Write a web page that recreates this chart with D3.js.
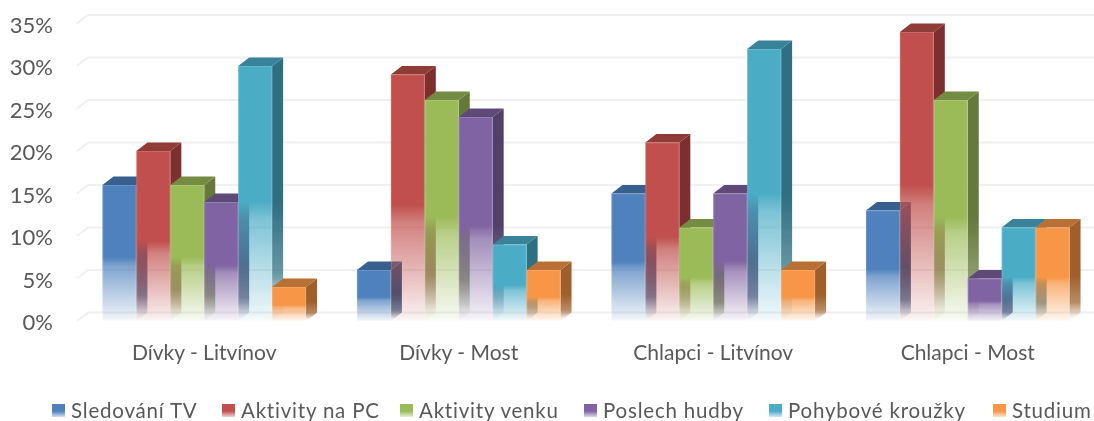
<!DOCTYPE html>
<html>
<head>
<meta charset="utf-8">
<script src="https://cdn.jsdelivr.net/npm/d3@7"></script>
<style>
  html, body { margin: 0; background: #fff; }
  svg { display: block; }
  text { font-family: Lato, "Open Sans", sans-serif; fill: #595959; }
</style>
</head>
<body>
<div id="chart"></div>
<script>
const groups = ["Dívky - Litvínov", "Dívky - Most", "Chlapci - Litvínov", "Chlapci - Most"];
const series = ["Sledování TV", "Aktivity na PC", "Aktivity venku", "Poslech hudby", "Pohybové kroužky", "Studium"];
const sledovaniTv = [16, 6, 15, 13];
const aktivityPc = [20, 29, 21, 34];
const aktivityVenku = [16, 26, 11, 26];
const poslechHudby = [14, 24, 15, 5];
const pohyboveKrouzky = [30, 9, 32, 11];
const studium = [4, 6, 6, 11];
const values = [sledovaniTv, aktivityPc, aktivityVenku, poslechHudby, pohyboveKrouzky, studium];
const yTicks = [0, 5, 10, 15, 20, 25, 30, 35];

const frontColors = ["#4f81bd", "#c0504d", "#9bbb59", "#8064a2", "#4bacc6", "#f79646"];
const sideColors = ["#2f4f78", "#7d2f2d", "#65793a", "#524069", "#2e6f81", "#9e5f2b"];
const topColors = ["#38608f", "#8f3b39", "#738c42", "#5f4a79", "#37829a", "#b97034"];
const legendX = [52, 222, 400, 584, 769, 993];

const width = 1094, height = 421;
const depth = { x: 11, y: 8.5 };

const svg = d3.select("#chart").append("svg")
  .attr("width", width)
  .attr("height", height)
  .attr("viewBox", `0 0 ${width} ${height}`);

const defs = svg.append("defs");
defs.append("filter").attr("id", "soft")
  .append("feGaussianBlur").attr("stdDeviation", 0.4);

// bottom part of each bar fades out, same proportion on all of them
function fadeGradient(id, color, stops) {
  const grad = defs.append("linearGradient")
    .attr("id", id)
    .attr("x1", 0).attr("y1", 0).attr("x2", 0).attr("y2", 1);
  stops.forEach(s => {
    grad.append("stop")
      .attr("offset", s[0])
      .attr("stop-color", color)
      .attr("stop-opacity", s[1]);
  });
}
series.forEach((s, i) => {
  fadeGradient(`front${i}`, frontColors[i], [[0, 1], [0.53, 1], [0.6, 0.72], [0.98, 0.1], [1, 0.03]]);
  fadeGradient(`side${i}`, sideColors[i], [[0, 1], [0.55, 1], [0.82, 0.72], [0.96, 0.08], [1, 0]]);
  fadeGradient(`legend${i}`, frontColors[i], [[0, 1], [0.55, 1], [1, 0.25]]);
});

const x0 = d3.scaleBand().domain(groups).range([77, 1095]).paddingInner(0.2).paddingOuter(0.1);
const x1 = d3.scaleBand().domain(series).range([0, x0.bandwidth()]);
const y = d3.scaleLinear().domain([0, 35]).range([321, 23.5]);

const root = svg.append("g").attr("filter", "url(#soft)");

// back wall gridlines
const grid = root.append("g");
yTicks.forEach(t => {
  grid.append("path")
    .attr("d", d3.line()([[x0.range()[0], y(t)], [x0.range()[0] + depth.x, y(t) - depth.y], [width, y(t) - depth.y]]))
    .attr("fill", "none")
    .attr("stroke", "#f0f0f0")
    .attr("stroke-width", 2);
});

root.append("g")
  .attr("transform", "translate(55,1.5)")
  .call(d3.axisLeft(y).tickValues(yTicks).tickSize(0).tickPadding(2).tickFormat(d => d + "%"))
  .call(g => g.select(".domain").remove())
  .call(g => g.selectAll("text").attr("font-size", 22).style("font-family", "Lato, sans-serif").attr("fill", "#595959"));

const barsLayer = root.append("g");
groups.forEach((group, gi) => {
  series.forEach((s, si) => {
    const v = values[si][gi];
    const left = x0(group) + x1(s);
    const right = left + x1.bandwidth();
    const top = y(v), bottom = y(0);
    const g = barsLayer.append("g");

    g.append("path")
      .attr("d", d3.line()([[right, top], [right + depth.x, top - depth.y], [right + depth.x, bottom - depth.y], [right, bottom]]) + "Z")
      .attr("fill", `url(#side${si})`);
    g.append("path")
      .attr("d", d3.line()([[left, top], [left + depth.x, top - depth.y], [right + depth.x, top - depth.y], [right, top]]) + "Z")
      .attr("fill", topColors[si]);
    g.append("rect")
      .attr("x", left)
      .attr("y", top)
      .attr("width", x1.bandwidth())
      .attr("height", bottom - top)
      .attr("fill", `url(#front${si})`);
    // thin light edge round the front face
    g.append("rect")
      .attr("x", left + 0.5)
      .attr("y", top + 0.5)
      .attr("width", x1.bandwidth() - 1)
      .attr("height", bottom - top - 1)
      .attr("fill", "none")
      .attr("stroke", "#fff")
      .attr("stroke-opacity", 0.15);
  });
});

root.append("g")
  .selectAll("text")
  .data(groups)
  .join("text")
  .attr("x", d => x0(d) + x0.bandwidth() / 2)
  .attr("y", 360)
  .attr("text-anchor", "middle")
  .attr("font-size", 21)
  .text(d => d);

const legend = root.append("g");
series.forEach((s, i) => {
  legend.append("rect")
    .attr("x", legendX[i])
    .attr("y", 404)
    .attr("width", 13)
    .attr("height", 13)
    .attr("fill", `url(#legend${i})`);
  legend.append("text")
    .attr("x", legendX[i] + 19)
    .attr("y", 418)
    .attr("font-size", 20.5)
    .attr("letter-spacing", 0.8)
    .text(s);
});
</script>
</body>
</html>
